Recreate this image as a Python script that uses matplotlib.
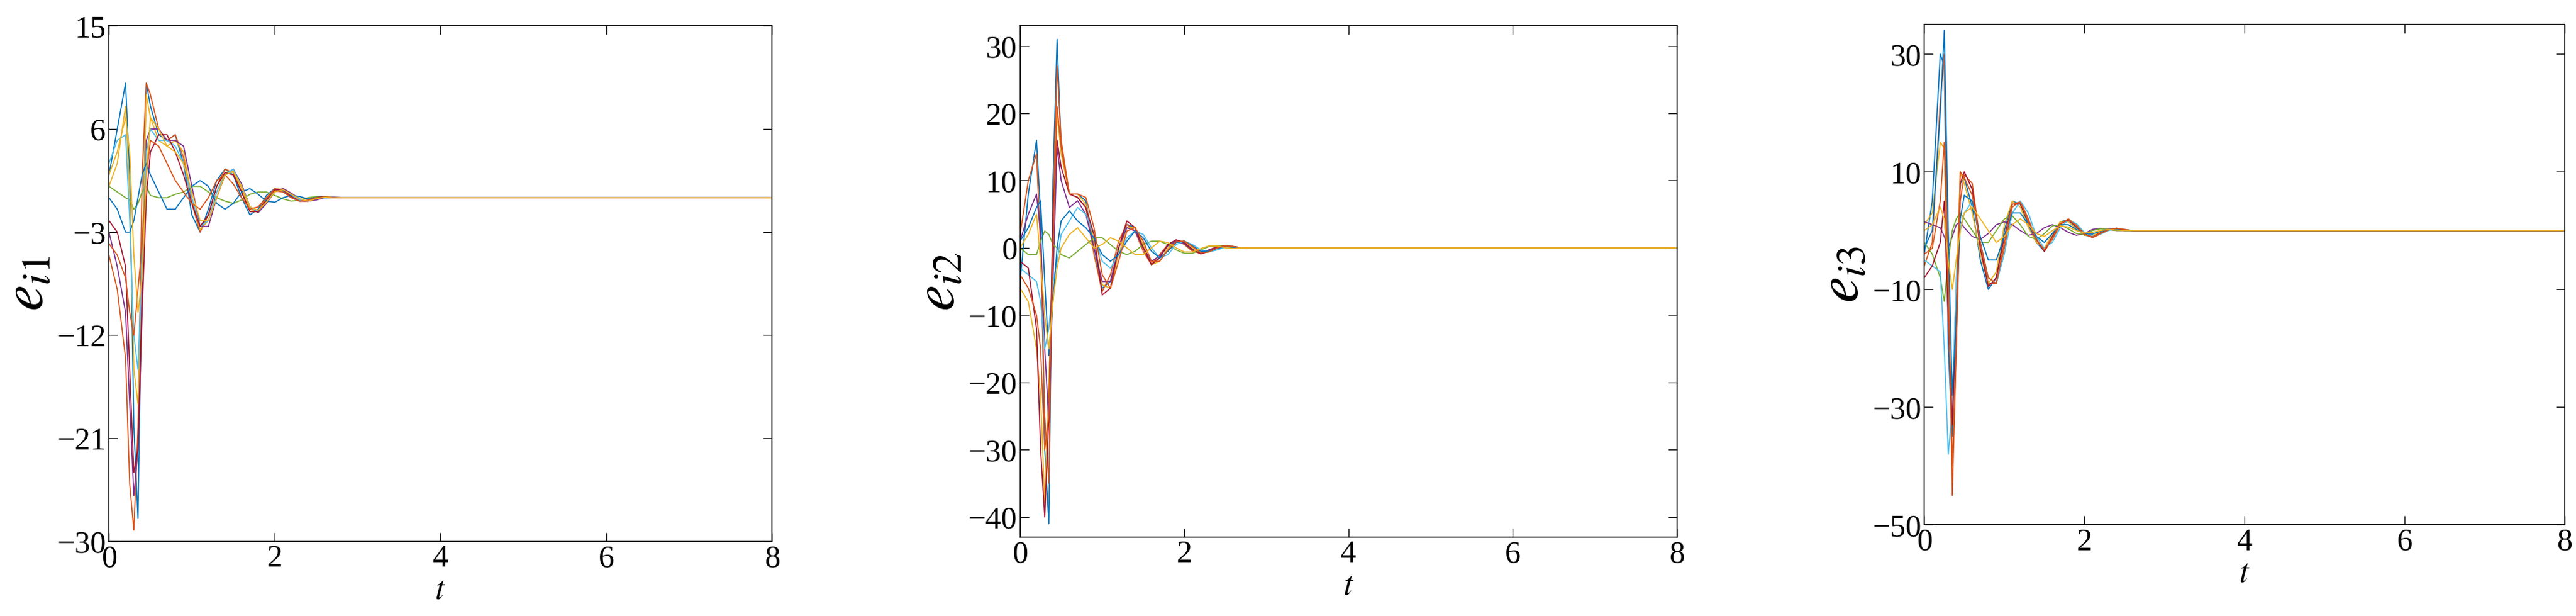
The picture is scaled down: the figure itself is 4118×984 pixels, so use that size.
import numpy as np
import matplotlib
matplotlib.use("Agg")
import matplotlib.pyplot as plt

plt.rcParams['font.family'] = ['Liberation Serif', 'DejaVu Serif']
plt.rcParams['mathtext.fontset'] = 'stix'

t = [0, .1, .2, .25, .3, .35, .4, .45, .5, .6, .7, .8, .9, 1.0, 1.1, 1.2, 1.3, 1.4, 1.5, 1.6,
     1.7, 1.8, 1.9, 2.0, 2.1, 2.2, 2.3, 2.4, 2.5, 2.6, 2.7, 2.8, 2.9, 3.0]
t_tail = [3.5, 8.0]
e_tail = [0, 0]

e1 = [
 [2, 6, 10, 2, -20, -28, -5, 10, 8, 5.5, 5, 5.5, 3, -1.5, -3, -1, 1.5, 2.5, 2, 0, -1.5, -1, 0.2, 0.8, 0.6, 0, -0.3, -0.2, 0.1, 0.1, 0, 0, 0, 0],
 [-5, -8, -14, -25, -29, -20, 2, 10, 9, 6, 5, 5.5, 3.5, -0.5, -3, -1.5, 1, 2.5, 2.2, 0.5, -1.2, -1.2, 0, 0.8, 0.7, 0.1, -0.3, -0.3, 0, 0.1, 0, 0, 0, 0],
 [1, 3, 8, 0, -15, -18, -5, 9, 7, 5, 4.5, 5, 4, 0, -2.8, -2, 0.5, 2.2, 2.3, 0.8, -1, -1.3, -0.3, 0.6, 0.8, 0.3, -0.2, -0.3, -0.1, 0.1, 0.05, 0, 0, 0],
 [-3, -6, -10, -18, -26, -22, -8, 5, 6, 6, 5, 5, 4.5, 1, -2.5, -2.5, 0, 2, 2.5, 1.2, -0.8, -1.3, -0.5, 0.5, 0.8, 0.4, -0.1, -0.3, -0.2, 0, 0.05, 0, 0, 0],
 [1, 0.5, 0, -0.2, -1, -0.5, 0.5, 1, 0.2, 0, 0, 0.3, 0.5, 1, 1, 0.5, 0, -0.3, -0.5, -0.2, 0.3, 0.5, 0.5, 0.2, -0.1, -0.3, -0.2, 0, 0.1, 0.05, 0, 0, 0, 0],
 [3, 5, 5.5, -2, -12, -15, -5, 4, 6, 5, 5, 4.5, 3, 0, -2.5, -2, 0.5, 2, 2.5, 1, -0.8, -1.2, -0.3, 0.6, 0.7, 0.2, -0.2, -0.3, 0, 0.1, 0, 0, 0, 0],
 [-2, -3, -6, -15, -24, -22, -10, 0, 4, 5.5, 5.5, 4, 2, -0.5, -2.5, -1.5, 1, 2.2, 2, 0.5, -1.2, -1.2, -0.2, 0.7, 0.7, 0.1, -0.3, -0.3, 0, 0.1, 0, 0, 0, 0],
 [0, -1, -3, -3, -2, 0, 2, 3, 2, 0.5, -1, -1, 0, 1, 1.5, 1, -0.5, -1, -0.5, 0.5, 0.8, 0.3, -0.3, -0.4, 0, 0.2, 0.1, -0.1, 0, 0, 0, 0, 0, 0],
 [-4, -5, -7, -10, -12, -8, -4, 2, 5, 4.5, 3, 1.5, 0.5, -0.5, -1, 0, 1.5, 2, 1.2, 0, -1, -0.8, 0, 0.6, 0.5, 0, -0.3, -0.2, 0, 0.05, 0, 0, 0, 0],
 [2, 4, 7, 4, -5, -10, -7, 2, 7, 6, 4.5, 4, 3, 0.5, -2, -2, 0, 2, 2.3, 1, -0.8, -1.1, -0.4, 0.5, 0.7, 0.3, -0.1, -0.3, -0.1, 0.05, 0, 0, 0, 0],
]
e2 = [
 [-5, 8, 16, 5, -30, -41, 10, 31, 15, 8, 8, 7, 0, -6, -5, 0, 3.5, 3, 0, -2.5, -1.5, 0.5, 1, 0.8, -0.2, -0.8, -0.5, 0.1, 0.3, 0.2, 0, 0, 0, 0],
 [2, 10, 14, 0, -25, -35, 5, 27, 16, 8, 7.5, 6, -1, -6.5, -4, 1, 3.5, 2.5, -0.5, -2.5, -1, 0.5, 1.1, 0.5, -0.5, -0.8, -0.3, 0.2, 0.3, 0.1, 0, 0, 0, 0],
 [-6, -8, -15, -22, -38, -20, 0, 20, 14, 8, 8, 6.5, 1, -5.5, -6, -1, 3, 3, 0.5, -2.5, -2, 0, 1, 1, 0, -0.8, -0.6, 0, 0.3, 0.2, 0, 0, 0, 0],
 [1, 5, 8, 2, -15, -26, -5, 15, 10, 6, 7, 5, 0, -5, -5, 0, 3, 2.5, 0, -2, -1.2, 0.3, 1, 0.6, -0.3, -0.7, -0.3, 0.1, 0.2, 0.1, 0, 0, 0, 0],
 [0, -1, -1, 1, 2.5, 2, 0.5, 0, -1, -1.5, -0.5, 0.5, 1.5, 1.5, 0.5, -0.5, -1, -0.5, 0.5, 1, 1, 0.5, -0.3, -0.8, -0.8, -0.3, 0.2, 0.3, 0.2, 0, 0, 0, 0, 0],
 [-3, -4, -5, -8, -15, -12, -5, -2, 2, 4, 6, 5, 2, -2, -3, -1, 1.5, 2.5, 2, 0, -1.5, -1, 0.5, 1, 0.5, -0.3, -0.6, -0.3, 0.1, 0.2, 0, 0, 0, 0],
 [-2, -3, -12, -30, -40, -25, 5, 16, 12, 8, 7.5, 6, 2, -7, -6, 0, 4, 3, 0, -2.5, -1.5, 0.5, 1.2, 0.8, -0.3, -0.9, -0.5, 0.1, 0.3, 0.2, 0, 0, 0, 0],
 [1, 3, 6, 7, -5, -16, -8, 0, 4, 5.5, 4, 3, 1.5, -1, -2, -1, 1, 2.5, 1.5, -0.5, -1.5, -0.5, 0.8, 1, 0.3, -0.5, -0.5, -0.1, 0.2, 0.1, 0, 0, 0, 0],
 [-4, -6, -10, -15, -30, -25, 0, 21, 15, 8, 8, 7.5, 3, -4, -6, -2, 2.5, 3, 1, -2, -2, -0.3, 0.9, 1, 0.2, -0.7, -0.6, 0, 0.3, 0.2, 0, 0, 0, 0],
 [0, 2, 5, -2, -10, -15, -8, -3, 0, 2, 3, 1.5, 0, 0.5, 1.5, 1, 0, -1, -1, 0, 1, 0.8, 0, -0.6, -0.6, -0.1, 0.3, 0.3, 0, -0.1, 0, 0, 0, 0],
]
e3 = [
 [-4, 5, 30, 28, -20, -35, -10, 8, 9, 4, -5, -10, -8, 0, 5, 4.5, 1, -2, -3.5, -1, 1.5, 1.8, 0.5, -0.8, -1, -0.4, 0.2, 0.3, 0.1, 0, 0, 0, 0, 0],
 [-6, -2, 22, 30, -5, -45, -20, 5, 9.5, 8, -2, -9, -9, -3, 4, 5, 2, -1.5, -3.5, -1.5, 1, 2, 1, -0.5, -1.2, -0.6, 0.1, 0.4, 0.2, 0, 0, 0, 0, 0],
 [1, 3, 15, 14, -15, -30, -10, 10, 8, 3, -4, -9, -7, 1, 5, 4, 0.5, -2, -3, -0.5, 1.5, 1.5, 0.3, -0.8, -0.9, -0.2, 0.3, 0.3, 0, 0, 0, 0, 0, 0],
 [1.5, 1, 0.5, -1, -3, -1, 1, 1.5, 0.5, -1, -1.5, -0.5, 1, 1.5, 1, 0, -0.8, -0.5, 0.5, 1, 0.5, -0.3, -0.8, -0.5, 0.2, 0.4, 0.2, 0, 0, 0, 0, 0, 0, 0],
 [-2, -4, -8, -12, -5, 0, 2, 3, 2, 0, -2, -2, 0, 2, 2.5, 1, -1, -1.5, -0.5, 0.8, 1, 0.3, -0.5, -0.6, 0, 0.3, 0.2, 0, 0, 0, 0, 0, 0, 0],
 [-5, -6, -7, -20, -38, -30, -8, 0, 3, 5, -2, -8, -9, -4, 3, 5, 3, -1, -3, -2, 0.5, 1.8, 1.2, -0.3, -1, -0.6, 0, 0.3, 0.2, 0, 0, 0, 0, 0],
 [-8, -6, -2, 5, -15, -33, -15, 8, 10, 7, -3, -9.5, -8, -1, 4.5, 4.5, 1.5, -1.5, -3.5, -1, 1.2, 1.8, 0.7, -0.6, -1.1, -0.4, 0.2, 0.4, 0.1, 0, 0, 0, 0, 0],
 [-3, 0, 20, 34, 0, -28, -15, 2, 6, 5, -1, -5, -5, -1, 3, 3, 1, -1, -2, -0.5, 1, 1, 0.2, -0.5, -0.6, -0.1, 0.2, 0.2, 0, 0, 0, 0, 0, 0],
 [-4, -3, 5, 15, -10, -40, -20, 10, 9, 6, -2, -8, -9, -2, 4.5, 4.8, 1.5, -1.5, -3.3, -1.2, 1.2, 1.9, 0.8, -0.6, -1.1, -0.5, 0.1, 0.4, 0.2, 0, 0, 0, 0, 0],
 [0, 1, 4, 2, -5, -10, -5, 0, 3, 4, 2, 0, -2, -1, 1, 2, 1, -0.5, -1, 0, 0.8, 0.6, 0, -0.4, -0.3, 0, 0.2, 0.1, 0, 0, 0, 0, 0, 0],
]

labels = [r'$e_{i1}$', r'$e_{i2}$', r'$e_{i3}$']
ylims = [(-30, 15), (-43, 33), (-50, 35)]
yticks = [[-30, -21, -12, -3, 6, 15], [-40, -30, -20, -10, 0, 10, 20, 30], [-50, -30, -10, 10, 30]]
xticks = [0, 2, 4, 6, 8]
colors = ['#0072BD', '#D95319', '#EDB120', '#7E2F8E', '#77AC30', '#4DBEEE', '#A2142F']
rects = [[0.0423, 0.121, 0.2574, 0.837], [0.396, 0.128, 0.255, 0.830], [0.747, 0.148, 0.2486, 0.812]]

fig = plt.figure(figsize=(41.18, 9.84), dpi=100)
for k, data in enumerate([e1, e2, e3]):
    ax = fig.add_axes(rects[k])
    for j, y in enumerate(data):
        n = len(y)
        ax.plot(list(t[:n]) + t_tail, list(y) + e_tail, color=colors[j % 7], lw=1.3)
    ax.set_xlim(0, 8)
    ax.set_ylim(*ylims[k])
    ax.set_xticks(xticks)
    ax.set_yticks(yticks[k])
    ax.tick_params(direction='in', top=True, right=True, labelsize=36, length=10, width=1)
    for s in ax.spines.values():
        s.set_linewidth(1.2)
    ax.set_xlabel(r'$t$', fontsize=38, labelpad=2)
    ax.set_ylabel(labels[k], fontsize=68, labelpad=2)

fig.savefig('out.png', dpi=100)
